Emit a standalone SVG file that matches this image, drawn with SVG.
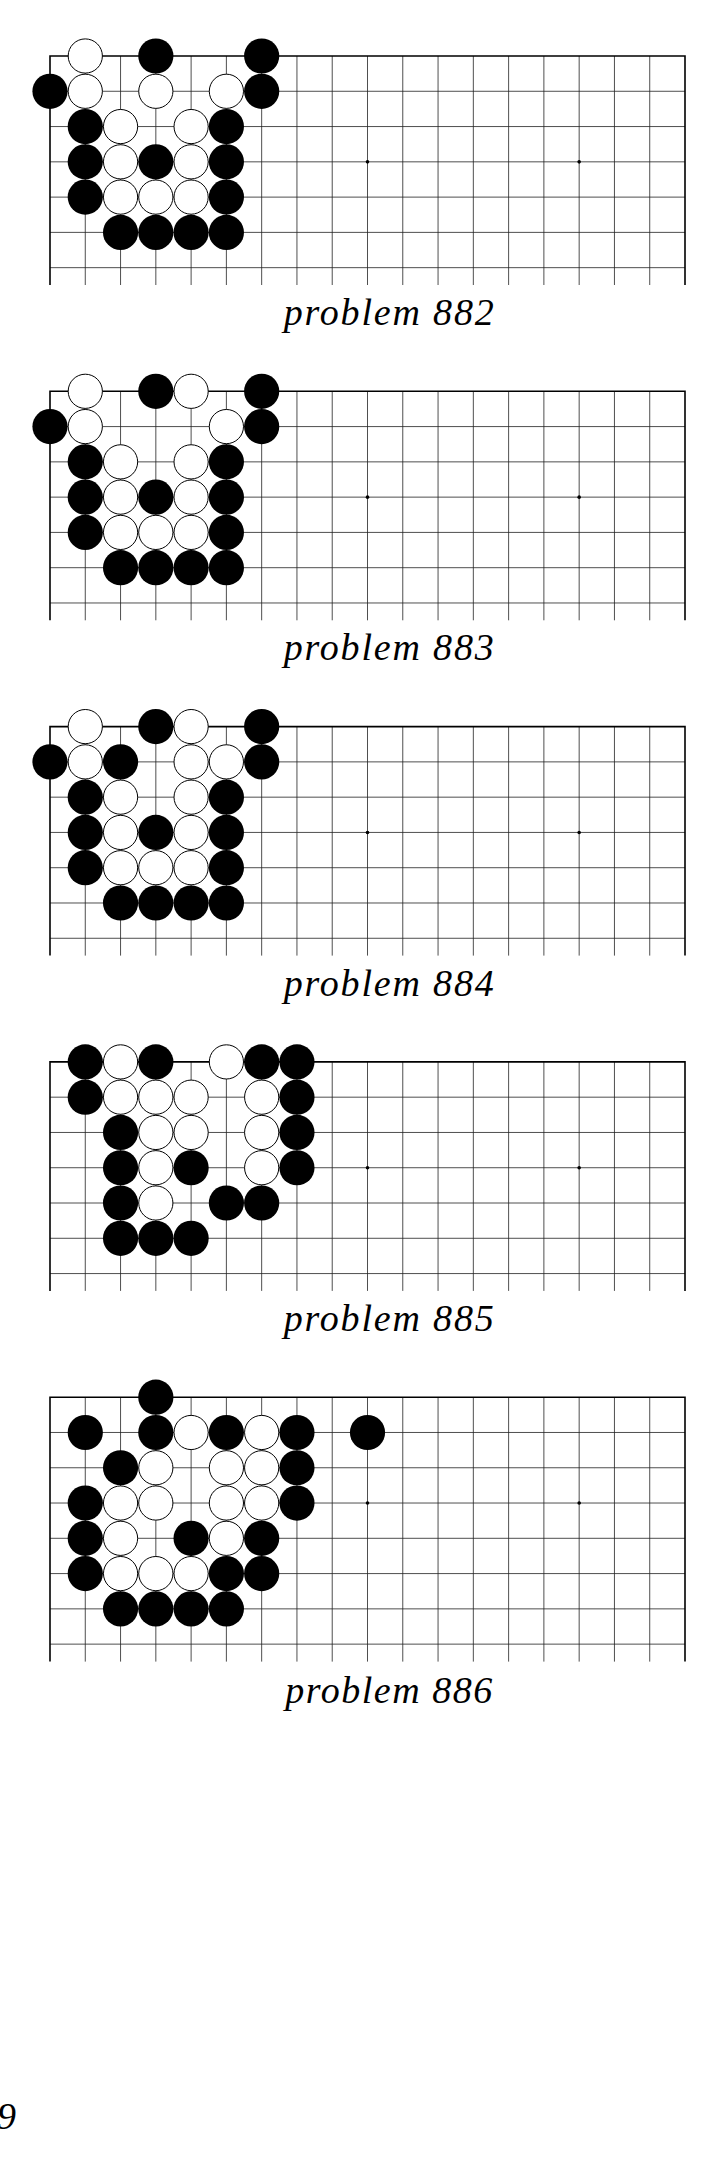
<svg xmlns="http://www.w3.org/2000/svg" xmlns:xlink="http://www.w3.org/1999/xlink" width="725" height="2181" viewBox="0 0 725 2181">
<style>
.thin{fill:none;stroke:#222;stroke-width:0.8}
.edge{fill:none;stroke:#000;stroke-width:1.6}
.star{fill:#000}
.bs{fill:#000}
.ws{fill:#fff;stroke:#000;stroke-width:1}
.lbl{font-family:"Liberation Serif",serif;font-style:italic;font-size:38px;fill:#000}
</style>
<defs>
<circle id="B" class="bs" r="17.6"/>
<circle id="W" class="ws" r="17.1"/>
<g id="grid7">
<path class="thin" d="M50 35.28H685M50 70.56H685M50 105.83H685M50 141.11H685M50 176.39H685M50 211.67H685"/>
<path class="thin" d="M85.28 0V229M120.56 0V229M155.83 0V229M191.11 0V229M226.39 0V229M261.67 0V229M296.94 0V229M332.22 0V229M367.5 0V229M402.78 0V229M438.06 0V229M473.33 0V229M508.61 0V229M543.89 0V229M579.17 0V229M614.44 0V229M649.72 0V229"/>
<path class="edge" d="M50 229V0H685V229"/>
<circle class="star" cx="367.5" cy="105.83" r="1.8"/>
<circle class="star" cx="579.17" cy="105.83" r="1.8"/>
</g>
<g id="grid8">
<path class="thin" d="M50 35.28H685M50 70.56H685M50 105.83H685M50 141.11H685M50 176.39H685M50 211.67H685M50 246.94H685"/>
<path class="thin" d="M85.28 0V264.4M120.56 0V264.4M155.83 0V264.4M191.11 0V264.4M226.39 0V264.4M261.67 0V264.4M296.94 0V264.4M332.22 0V264.4M367.5 0V264.4M402.78 0V264.4M438.06 0V264.4M473.33 0V264.4M508.61 0V264.4M543.89 0V264.4M579.17 0V264.4M614.44 0V264.4M649.72 0V264.4"/>
<path class="edge" d="M50 264.4V0H685V264.4"/>
<circle class="star" cx="367.5" cy="105.83" r="1.8"/>
<circle class="star" cx="579.17" cy="105.83" r="1.8"/>
</g>
</defs>

<g id="problem882" transform="translate(0,56)">
<use xlink:href="#grid7"/>
<use xlink:href="#W" x="85.28" y="0"/><use xlink:href="#B" x="155.83" y="0"/><use xlink:href="#B" x="261.67" y="0"/>
<use xlink:href="#B" x="50" y="35.28"/><use xlink:href="#W" x="85.28" y="35.28"/><use xlink:href="#W" x="155.83" y="35.28"/><use xlink:href="#W" x="226.39" y="35.28"/><use xlink:href="#B" x="261.67" y="35.28"/>
<use xlink:href="#B" x="85.28" y="70.56"/><use xlink:href="#W" x="120.56" y="70.56"/><use xlink:href="#W" x="191.11" y="70.56"/><use xlink:href="#B" x="226.39" y="70.56"/>
<use xlink:href="#B" x="85.28" y="105.83"/><use xlink:href="#W" x="120.56" y="105.83"/><use xlink:href="#B" x="155.83" y="105.83"/><use xlink:href="#W" x="191.11" y="105.83"/><use xlink:href="#B" x="226.39" y="105.83"/>
<use xlink:href="#B" x="85.28" y="141.11"/><use xlink:href="#W" x="120.56" y="141.11"/><use xlink:href="#W" x="155.83" y="141.11"/><use xlink:href="#W" x="191.11" y="141.11"/><use xlink:href="#B" x="226.39" y="141.11"/>
<use xlink:href="#B" x="120.56" y="176.39"/><use xlink:href="#B" x="155.83" y="176.39"/><use xlink:href="#B" x="191.11" y="176.39"/><use xlink:href="#B" x="226.39" y="176.39"/>
<text class="lbl" x="388.7" y="269" text-anchor="middle" textLength="210" lengthAdjust="spacing">problem 882</text>
</g>

<g id="problem883" transform="translate(0,391.3)">
<use xlink:href="#grid7"/>
<use xlink:href="#W" x="85.28" y="0"/><use xlink:href="#B" x="155.83" y="0"/><use xlink:href="#W" x="191.11" y="0"/><use xlink:href="#B" x="261.67" y="0"/>
<use xlink:href="#B" x="50" y="35.28"/><use xlink:href="#W" x="85.28" y="35.28"/><use xlink:href="#W" x="226.39" y="35.28"/><use xlink:href="#B" x="261.67" y="35.28"/>
<use xlink:href="#B" x="85.28" y="70.56"/><use xlink:href="#W" x="120.56" y="70.56"/><use xlink:href="#W" x="191.11" y="70.56"/><use xlink:href="#B" x="226.39" y="70.56"/>
<use xlink:href="#B" x="85.28" y="105.83"/><use xlink:href="#W" x="120.56" y="105.83"/><use xlink:href="#B" x="155.83" y="105.83"/><use xlink:href="#W" x="191.11" y="105.83"/><use xlink:href="#B" x="226.39" y="105.83"/>
<use xlink:href="#B" x="85.28" y="141.11"/><use xlink:href="#W" x="120.56" y="141.11"/><use xlink:href="#W" x="155.83" y="141.11"/><use xlink:href="#W" x="191.11" y="141.11"/><use xlink:href="#B" x="226.39" y="141.11"/>
<use xlink:href="#B" x="120.56" y="176.39"/><use xlink:href="#B" x="155.83" y="176.39"/><use xlink:href="#B" x="191.11" y="176.39"/><use xlink:href="#B" x="226.39" y="176.39"/>
<text class="lbl" x="388.7" y="269" text-anchor="middle" textLength="210" lengthAdjust="spacing">problem 883</text>
</g>

<g id="problem884" transform="translate(0,726.6)">
<use xlink:href="#grid7"/>
<use xlink:href="#W" x="85.28" y="0"/><use xlink:href="#B" x="155.83" y="0"/><use xlink:href="#W" x="191.11" y="0"/><use xlink:href="#B" x="261.67" y="0"/>
<use xlink:href="#B" x="50" y="35.28"/><use xlink:href="#W" x="85.28" y="35.28"/><use xlink:href="#B" x="120.56" y="35.28"/><use xlink:href="#W" x="191.11" y="35.28"/><use xlink:href="#W" x="226.39" y="35.28"/><use xlink:href="#B" x="261.67" y="35.28"/>
<use xlink:href="#B" x="85.28" y="70.56"/><use xlink:href="#W" x="120.56" y="70.56"/><use xlink:href="#W" x="191.11" y="70.56"/><use xlink:href="#B" x="226.39" y="70.56"/>
<use xlink:href="#B" x="85.28" y="105.83"/><use xlink:href="#W" x="120.56" y="105.83"/><use xlink:href="#B" x="155.83" y="105.83"/><use xlink:href="#W" x="191.11" y="105.83"/><use xlink:href="#B" x="226.39" y="105.83"/>
<use xlink:href="#B" x="85.28" y="141.11"/><use xlink:href="#W" x="120.56" y="141.11"/><use xlink:href="#W" x="155.83" y="141.11"/><use xlink:href="#W" x="191.11" y="141.11"/><use xlink:href="#B" x="226.39" y="141.11"/>
<use xlink:href="#B" x="120.56" y="176.39"/><use xlink:href="#B" x="155.83" y="176.39"/><use xlink:href="#B" x="191.11" y="176.39"/><use xlink:href="#B" x="226.39" y="176.39"/>
<text class="lbl" x="388.7" y="269" text-anchor="middle" textLength="210" lengthAdjust="spacing">problem 884</text>
</g>

<g id="problem885" transform="translate(0,1061.9)">
<use xlink:href="#grid7"/>
<use xlink:href="#B" x="85.28" y="0"/><use xlink:href="#W" x="120.56" y="0"/><use xlink:href="#B" x="155.83" y="0"/><use xlink:href="#W" x="226.39" y="0"/><use xlink:href="#B" x="261.67" y="0"/><use xlink:href="#B" x="296.94" y="0"/>
<use xlink:href="#B" x="85.28" y="35.28"/><use xlink:href="#W" x="120.56" y="35.28"/><use xlink:href="#W" x="155.83" y="35.28"/><use xlink:href="#W" x="191.11" y="35.28"/><use xlink:href="#W" x="261.67" y="35.28"/><use xlink:href="#B" x="296.94" y="35.28"/>
<use xlink:href="#B" x="120.56" y="70.56"/><use xlink:href="#W" x="155.83" y="70.56"/><use xlink:href="#W" x="191.11" y="70.56"/><use xlink:href="#W" x="261.67" y="70.56"/><use xlink:href="#B" x="296.94" y="70.56"/>
<use xlink:href="#B" x="120.56" y="105.83"/><use xlink:href="#W" x="155.83" y="105.83"/><use xlink:href="#B" x="191.11" y="105.83"/><use xlink:href="#W" x="261.67" y="105.83"/><use xlink:href="#B" x="296.94" y="105.83"/>
<use xlink:href="#B" x="120.56" y="141.11"/><use xlink:href="#W" x="155.83" y="141.11"/><use xlink:href="#B" x="226.39" y="141.11"/><use xlink:href="#B" x="261.67" y="141.11"/>
<use xlink:href="#B" x="120.56" y="176.39"/><use xlink:href="#B" x="155.83" y="176.39"/><use xlink:href="#B" x="191.11" y="176.39"/>
<text class="lbl" x="388.7" y="269" text-anchor="middle" textLength="210" lengthAdjust="spacing">problem 885</text>
</g>

<g id="problem886" transform="translate(0,1397.2)">
<use xlink:href="#grid8"/>
<use xlink:href="#B" x="155.83" y="0"/>
<use xlink:href="#B" x="85.28" y="35.28"/><use xlink:href="#B" x="155.83" y="35.28"/><use xlink:href="#W" x="191.11" y="35.28"/><use xlink:href="#B" x="226.39" y="35.28"/><use xlink:href="#W" x="261.67" y="35.28"/><use xlink:href="#B" x="296.94" y="35.28"/><use xlink:href="#B" x="367.5" y="35.28"/>
<use xlink:href="#B" x="120.56" y="70.56"/><use xlink:href="#W" x="155.83" y="70.56"/><use xlink:href="#W" x="226.39" y="70.56"/><use xlink:href="#W" x="261.67" y="70.56"/><use xlink:href="#B" x="296.94" y="70.56"/>
<use xlink:href="#B" x="85.28" y="105.83"/><use xlink:href="#W" x="120.56" y="105.83"/><use xlink:href="#W" x="155.83" y="105.83"/><use xlink:href="#W" x="226.39" y="105.83"/><use xlink:href="#W" x="261.67" y="105.83"/><use xlink:href="#B" x="296.94" y="105.83"/>
<use xlink:href="#B" x="85.28" y="141.11"/><use xlink:href="#W" x="120.56" y="141.11"/><use xlink:href="#B" x="191.11" y="141.11"/><use xlink:href="#W" x="226.39" y="141.11"/><use xlink:href="#B" x="261.67" y="141.11"/>
<use xlink:href="#B" x="85.28" y="176.39"/><use xlink:href="#W" x="120.56" y="176.39"/><use xlink:href="#W" x="155.83" y="176.39"/><use xlink:href="#W" x="191.11" y="176.39"/><use xlink:href="#B" x="226.39" y="176.39"/><use xlink:href="#B" x="261.67" y="176.39"/>
<use xlink:href="#B" x="120.56" y="211.67"/><use xlink:href="#B" x="155.83" y="211.67"/><use xlink:href="#B" x="191.11" y="211.67"/><use xlink:href="#B" x="226.39" y="211.67"/>
<text class="lbl" x="388.7" y="306.1" text-anchor="middle" textLength="207" lengthAdjust="spacing">problem 886</text>
</g>

<g id="connectors"/>

<g id="page-number">
<text class="lbl" x="-3" y="2129" font-size="40">9</text>
</g>
</svg>
